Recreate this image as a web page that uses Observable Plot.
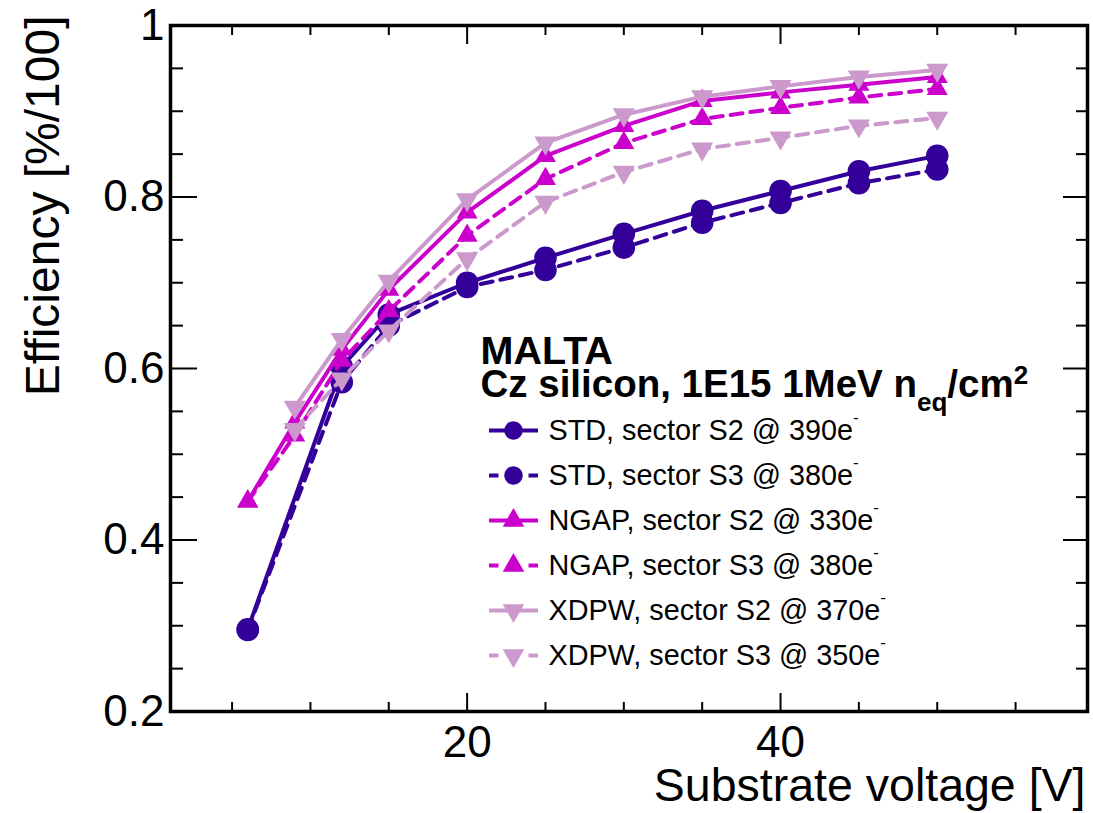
<!DOCTYPE html>
<html><head><meta charset="utf-8">
<script src="https://cdn.jsdelivr.net/npm/d3@7"></script>
<script src="https://cdn.jsdelivr.net/npm/@observablehq/plot@0.6"></script>
<style>body{margin:0;background:#fff;} #chart{width:1093px;height:813px;}</style>
</head><body><div id="chart"></div>
<script>
const voltages = [6, 9, 12, 15, 20, 25, 30, 35, 40, 45, 50];
const stdS2  = [0.296, null, 0.602, 0.663, 0.700, 0.729, 0.757, 0.784, 0.807, 0.830, 0.848];
const stdS3  = [0.295, null, 0.584, 0.650, 0.695, 0.715, 0.741, 0.770, 0.793, 0.816, 0.832];
const ngapS2 = [0.445, 0.537, 0.622, 0.692, 0.782, 0.848, 0.883, 0.912, 0.922, 0.931, 0.940];
const ngapS3 = [0.445, 0.522, 0.609, 0.667, 0.755, 0.821, 0.863, 0.891, 0.904, 0.916, 0.926];
const xdpwS2 = [null, 0.555, 0.634, 0.702, 0.797, 0.863, 0.896, 0.917, 0.929, 0.940, 0.948];
const xdpwS3 = [null, 0.529, 0.588, 0.644, 0.728, 0.794, 0.829, 0.856, 0.869, 0.883, 0.892];
const seriesNames = ["STD S2", "STD S3", "NGAP S2", "NGAP S3", "XDPW S2", "XDPW S3"];
const legendLabels = [
  "STD, sector S2 @ 390e", "STD, sector S3 @ 380e",
  "NGAP, sector S2 @ 330e", "NGAP, sector S3 @ 380e",
  "XDPW, sector S2 @ 370e", "XDPW, sector S3 @ 350e"
];
const titleLine1 = "MALTA";
const titleLine2 = "Cz silicon, 1E15 1MeV n";
const xTitle = "Substrate voltage [V]";
const yTitle = "Efficiency [%/100]";
const xMajorTicks = [20, 40];
const xMinorTicks = [5, 10, 15, 25, 30, 35, 45, 50, 55];
const yMajorTicks = [0.2, 0.4, 0.6, 0.8, 1];
const yMinorTicks = [0.25, 0.3, 0.35, 0.45, 0.5, 0.55, 0.65, 0.7, 0.75, 0.85, 0.9, 0.95];

const cStd = "#330099", cNgap = "#cc00cc", cXdpw = "#cc99cc";
const s3 = Math.sqrt(3);
const triangleDown = {draw(ctx, size) {
  const y = Math.sqrt(size / (3 * s3));
  ctx.moveTo(0, 2 * y); ctx.lineTo(-s3 * y, -y); ctx.lineTo(s3 * y, -y); ctx.closePath();
}};
const legLineSolid = {draw(ctx) { ctx.moveTo(-24.5, 0); ctx.lineTo(24.5, 0); }};
const legLineDashed = {draw(ctx) { ctx.moveTo(-24.5, 0); ctx.lineTo(-15, 0); ctx.moveTo(15, 0); ctx.lineTo(24.5, 0); }};

const seriesValues = [stdS2, stdS3, ngapS2, ngapS3, xdpwS2, xdpwS3];
const styles = [
  {color: cStd, dashed: false, symbol: "circle", r: 11.3, lr: 9.3},
  {color: cStd, dashed: true, symbol: "circle", r: 11.3, lr: 9.3},
  {color: cNgap, dashed: false, symbol: "triangle", r: 7.8, lr: 8},
  {color: cNgap, dashed: true, symbol: "triangle", r: 7.8, lr: 8},
  {color: cXdpw, dashed: false, symbol: triangleDown, r: 8.2, lr: 8},
  {color: cXdpw, dashed: true, symbol: triangleDown, r: 8.2, lr: 8}
];

const marks = [];
seriesNames.forEach((name, k) => {
  const rows = voltages.map((v, i) => ({series: name, x: v, y: seriesValues[k][i]})).filter(d => d.y != null);
  const st = styles[k];
  const lineOpts = {x: "x", y: "y", stroke: st.color, strokeWidth: 4};
  if (st.dashed) lineOpts.strokeDasharray = "12,8";
  marks.push(Plot.line(rows, lineOpts));
  marks.push(Plot.dot(rows, {x: "x", y: "y", symbol: st.symbol, fill: st.color, stroke: "none", r: st.r}));
});

// ticks (inward)
const tk = {stroke: "black", strokeWidth: 2, text: null, label: null};
marks.push(
  Plot.axisX({...tk, anchor: "bottom", ticks: xMinorTicks, tickSize: -9}),
  Plot.axisX({...tk, anchor: "bottom", ticks: xMajorTicks, tickSize: -18}),
  Plot.axisX({...tk, anchor: "top", ticks: xMinorTicks, tickSize: -9}),
  Plot.axisX({...tk, anchor: "top", ticks: xMajorTicks, tickSize: -18}),
  Plot.axisY({...tk, anchor: "left", ticks: yMinorTicks, tickSize: -13}),
  Plot.axisY({...tk, anchor: "left", ticks: yMajorTicks, tickSize: -27}),
  Plot.axisY({...tk, anchor: "right", ticks: yMinorTicks, tickSize: -12}),
  Plot.axisY({...tk, anchor: "right", ticks: yMajorTicks, tickSize: -25}),
  Plot.axisX({anchor: "bottom", ticks: xMajorTicks, tickSize: 0, tickPadding: 14, fontSize: 44, label: null}),
  Plot.axisY({anchor: "left", ticks: yMajorTicks, tickSize: 0, tickPadding: 6, fontSize: 44, label: null,
              tickFormat: d => d === 1 ? "1" : d.toFixed(1)}),
  Plot.frame({stroke: "black", strokeWidth: 3.5}),
  Plot.text([xTitle], {frameAnchor: "bottom-right", text: d => d, textAnchor: "end", lineAnchor: "bottom", dx: -2, dy: 89, fontSize: 46.5}),
  Plot.text([yTitle], {frameAnchor: "top-left", text: d => d, rotate: -90, textAnchor: "end", lineAnchor: "middle", dx: -127, dy: -10, fontSize: 48}),
  Plot.text([titleLine1], {frameAnchor: "top-left", text: d => d, textAnchor: "start", lineAnchor: "bottom", dx: 310, dy: 338, fontSize: 39.5, fontWeight: "bold"}),
  Plot.text([titleLine2], {frameAnchor: "top-left", text: d => d, textAnchor: "start", lineAnchor: "bottom", dx: 310, dy: 371, fontSize: 38.5, fontWeight: "bold"})
);

legendLabels.forEach((label, i) => {
  const st = styles[i];
  const cy = 405 + i * 45;
  marks.push(Plot.dot([label], {frameAnchor: "top-left", dx: 343, dy: cy, symbol: st.dashed ? legLineDashed : legLineSolid, stroke: st.color, strokeWidth: 4, fill: "none", r: 5}));
  marks.push(Plot.dot([label], {frameAnchor: "top-left", dx: 343, dy: cy, symbol: st.symbol, fill: st.color, stroke: "none", r: st.lr}));
  marks.push(Plot.text([label], {frameAnchor: "top-left", text: d => d, textAnchor: "start", lineAnchor: "bottom", dx: 378, dy: cy + 9.5, fontSize: 28.8}));
});

const plot = Plot.plot({
  width: 1093, height: 813,
  marginLeft: 170, marginRight: 6, marginTop: 25, marginBottom: 102,
  x: {domain: [1.07, 59.59]},
  y: {domain: [0.2, 1.0]},
  style: {fontFamily: "'Liberation Sans', Arial, Helvetica, sans-serif", color: "black", background: "white", overflow: "visible"},
  marks
});

const svg = d3.select(plot);
svg.selectAll("text").each(function() {
  const t = this.textContent;
  const el = d3.select(this);
  if (legendLabels.includes(t)) {
    el.append("tspan").attr("font-size", 17).attr("dy", -17).text("-");
  } else if (t === titleLine2) {
    el.append("tspan").attr("font-size", 26).attr("dy", 14).text("eq");
    el.append("tspan").attr("dy", -14).text("/cm");
    el.append("tspan").attr("font-size", 26).attr("dy", -13).text("2");
  }
});
document.getElementById("chart").appendChild(plot);
</script></body></html>
